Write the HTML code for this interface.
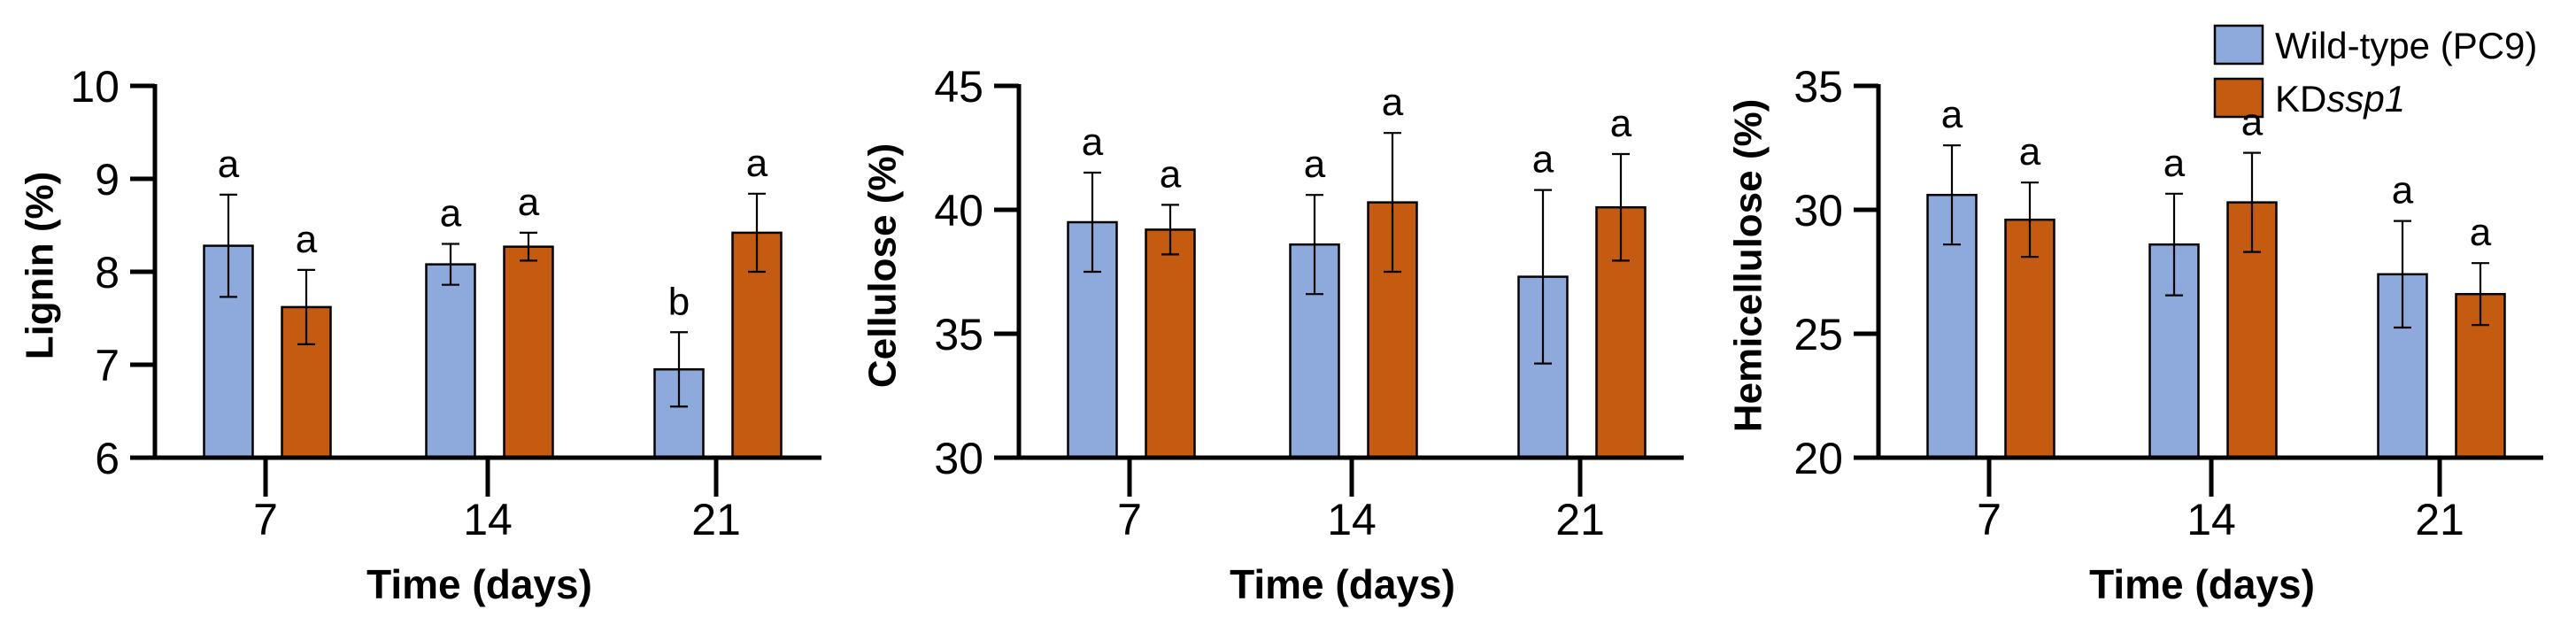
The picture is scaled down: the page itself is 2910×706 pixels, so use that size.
<!DOCTYPE html>
<html><head><meta charset="utf-8">
<style>
html,body{margin:0;padding:0;background:#fff;}
svg{display:block;font-family:"Liberation Sans",Arial,sans-serif;}
</style></head>
<body>
<svg id="chart" width="2910" height="706" viewBox="0 0 2910 706" xmlns="http://www.w3.org/2000/svg">
  <g id="legend">
    <rect x="2502" y="29" width="54" height="43" fill="#8EA9DB" stroke="#000" stroke-width="2.5"/>
    <text x="2570" y="66" font-size="42">Wild-type (PC9)</text>
    <rect x="2502" y="89" width="54" height="43" fill="#C55A11" stroke="#000" stroke-width="2.5"/>
    <text x="2570" y="126" font-size="42">KD<tspan font-style="italic">ssp1</tspan></text>
  </g>
</svg>
<script>
const categories = ["7", "14", "21"];
const ligninWT = [8.28, 8.08, 6.95];
const ligninWTErr = [0.55, 0.22, 0.40];
const ligninKD = [7.62, 8.27, 8.42];
const ligninKDErr = [0.40, 0.15, 0.42];
const ligninLetters = [["a","a","b"],["a","a","a"]];
const ligninTicks = [6, 7, 8, 9, 10];

const celluloseWT = [39.5, 38.6, 37.3];
const celluloseWTErr = [2.0, 2.0, 3.5];
const celluloseKD = [39.2, 40.3, 40.1];
const celluloseKDErr = [1.0, 2.8, 2.15];
const celluloseLetters = [["a","a","a"],["a","a","a"]];
const celluloseTicks = [30, 35, 40, 45];

const hemiWT = [30.6, 28.6, 27.4];
const hemiWTErr = [2.0, 2.05, 2.15];
const hemiKD = [29.6, 30.3, 26.6];
const hemiKDErr = [1.5, 2.0, 1.25];
const hemiLetters = [["a","a","a"],["a","a","a"]];
const hemiTicks = [20, 25, 30, 35];

const NS = "http://www.w3.org/2000/svg";
const svg = document.getElementById("chart");
function mk(tag, attrs, parent){
  const e = document.createElementNS(NS, tag);
  for (const k in attrs) e.setAttribute(k, attrs[k]);
  (parent||svg).appendChild(e);
  return e;
}

const panels = [
  {key:"lignin", title:"Lignin (%)", ax:175, xEnd:928, labX:45, wt:ligninWT, wtE:ligninWTErr, kd:ligninKD, kdE:ligninKDErr, letters:ligninLetters, ticks:ligninTicks},
  {key:"cellulose", title:"Cellulose (%)", ax:1151, xEnd:1902, labX:997, wt:celluloseWT, wtE:celluloseWTErr, kd:celluloseKD, kdE:celluloseKDErr, letters:celluloseLetters, ticks:celluloseTicks},
  {key:"hemicellulose", title:"Hemicellulose (%)", ax:2122, xEnd:2873, labX:1975, wt:hemiWT, wtE:hemiWTErr, kd:hemiKD, kdE:hemiKDErr, letters:hemiLetters, ticks:hemiTicks}
];
const yTop = 97, yBot = 517;
const catOffsets = [125, 376, 634];
const barW = 55;

panels.forEach(p => {
  const g = mk("g", {});
  
  
  const tMin = p.ticks[0], tMax = p.ticks[p.ticks.length-1];
  const y = v => yBot - (v - tMin) / (tMax - tMin) * (yBot - yTop);
  const x = i => p.ax + catOffsets[i];

  const series = [
    {vals:p.wt, err:p.wtE, fill:"#8EA9DB", off:-42, name:"wild-type", li:0},
    {vals:p.kd, err:p.kdE, fill:"#C55A11", off:46, name:"kdssp1", li:1}
  ];
  series.forEach(s => {
    s.vals.forEach((v, i) => {
      const cx = x(i) + s.off;
      const r = mk("rect", {x:cx - barW/2, y:y(v), width:barW, height:yBot - y(v), fill:s.fill, stroke:"#000", "stroke-width":2.5}, g);
      
      
      const hi = y(v + s.err[i]), lo = y(v - s.err[i]);
      const eb = mk("path", {d:`M${cx},${hi}V${lo}M${cx-10},${hi}H${cx+10}M${cx-10},${lo}H${cx+10}`, stroke:"#000", "stroke-width":2.2, fill:"none"}, g);
      
      
      const lt = mk("text", {x:cx, y:hi - 20, "font-size":44, "text-anchor":"middle"}, g);
      lt.textContent = p.letters[s.li][i];
      
      
    });
  });

  const ya = mk("line", {x1:p.ax, y1:yTop-2, x2:p.ax, y2:yBot+2, stroke:"#000", "stroke-width":5}, g);
  
  
  const xa = mk("line", {x1:p.ax-28, y1:yBot, x2:p.xEnd, y2:yBot, stroke:"#000", "stroke-width":5}, g);
  
  

  p.ticks.forEach(t => {
    const tk = mk("line", {x1:p.ax-28, y1:y(t), x2:p.ax, y2:y(t), stroke:"#000", "stroke-width":5}, g);
    
    
    const tl = mk("text", {x:p.ax-40, y:y(t)+18, "font-size":50, "text-anchor":"end"}, g);
    tl.textContent = t;
    
    
  });
  categories.forEach((c, i) => {
    const tk = mk("line", {x1:x(i), y1:yBot, x2:x(i), y2:yBot+44, stroke:"#000", "stroke-width":5}, g);
    
    
    const tl = mk("text", {x:x(i), y:604, "font-size":50, "text-anchor":"middle"}, g);
    tl.textContent = c;
    
    
  });

  const xt = mk("text", {x:(p.ax + p.xEnd)/2 - 10, y:676, "font-size":46, "font-weight":"bold", "text-anchor":"middle"}, g);
  xt.textContent = "Time (days)";
  
  

  const cy = 300;
  const yt = mk("text", {x:p.labX, y:cy, "font-size":44, "font-weight":"bold", "text-anchor":"middle", "dominant-baseline":"central", transform:`rotate(-90 ${p.labX} ${cy})`}, g);
  yt.textContent = p.title;
  
  
});
</script>
</body></html>
